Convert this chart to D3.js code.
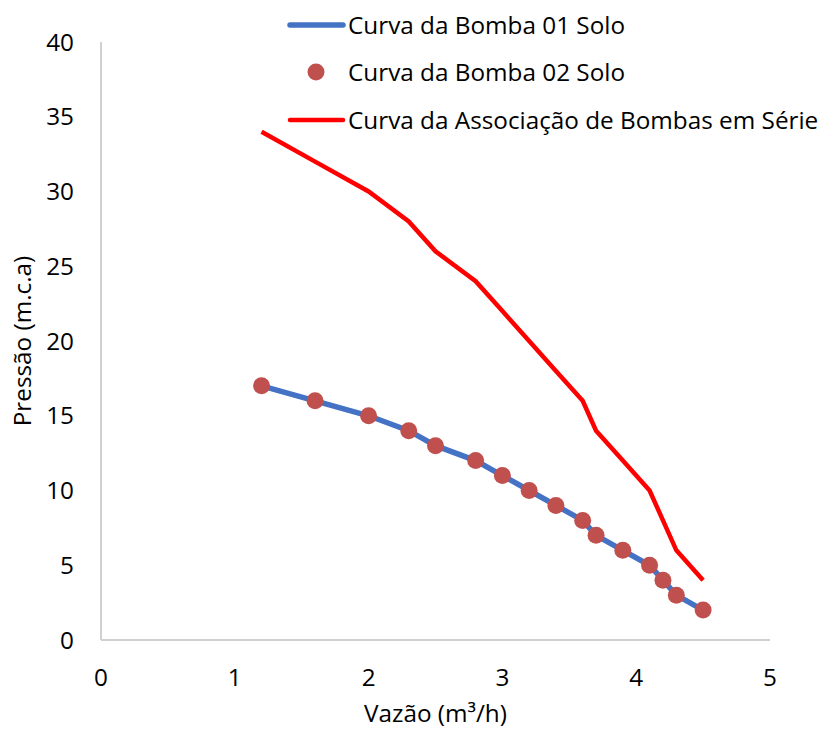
<!DOCTYPE html>
<html>
<head>
<meta charset="utf-8">
<script src="https://cdn.jsdelivr.net/npm/d3@7"></script>
<style>
  body { margin: 0; background: #fff; }
  text { font-family: "Open Sans", sans-serif; fill: #000; }
</style>
</head>
<body>
<div id="chart"></div>
<script>
// data
const vazao = [1.2, 1.6, 2, 2.3, 2.5, 2.8, 3, 3.2, 3.4, 3.6, 3.7, 3.9, 4.1, 4.2, 4.3, 4.5];
const bomba01 = [17, 16, 15, 14, 13, 12, 11, 10, 9, 8, 7, 6, 5, 4, 3, 2];
const bomba02 = [17, 16, 15, 14, 13, 12, 11, 10, 9, 8, 7, 6, 5, 4, 3, 2];
const serie = [34, 32, 30, 28, 26, 24, 22, 20, 18, 16, 14, 12, 10, 8, 6, 4];
const xTicks = [0, 1, 2, 3, 4, 5];
const yTicks = [0, 5, 10, 15, 20, 25, 30, 35, 40];
const legendNames = [
  "Curva da Bomba 01 Solo",
  "Curva da Bomba 02 Solo",
  "Curva da Associação de Bombas em Série",
];

const width = 819;
const height = 731;
const margin = { top: 42, right: 49, bottom: 91, left: 101 };
const fs = 24.3;

const svg = d3.select("#chart").append("svg")
  .attr("width", width)
  .attr("height", height);

// scale
const x = d3.scaleLinear().domain([0, 5]).range([margin.left, width - margin.right]);
const y = d3.scaleLinear().domain([0, 40]).range([height - margin.bottom, margin.top]);

//axis lines
svg.append("line")
  .attr("x1", x(0)).attr("x2", x(5))
  .attr("y1", y(0)).attr("y2", y(0))
  .attr("stroke", "#d0d0d0").attr("stroke-width", 2);
svg.append("line")
  .attr("x1", x(0)).attr("x2", x(0))
  .attr("y1", y(0)).attr("y2", y(40))
  .attr("stroke", "#d0d0d0").attr("stroke-width", 2);

//tick labels
svg.selectAll(".ytick")
  .data(yTicks)
  .enter()
  .append("text")
  .attr("x", x(0) - 27)
  .attr("y", (d) => y(d))
  .attr("dy", "0.35em")
  .attr("text-anchor", "end")
  .attr("font-size", fs)
  .text((d) => d);

svg.selectAll(".xtick")
  .data(xTicks)
  .enter()
  .append("text")
  .attr("x", (d) => x(d))
  .attr("y", y(0) + 37)
  .attr("dy", "0.35em")
  .attr("text-anchor", "middle")
  .attr("font-size", fs)
  .text((d) => d);

//axis titles
svg.append("text")
  .attr("x", (x(0) + x(5)) / 2)
  .attr("y", 713)
  .attr("dy", "0.35em")
  .attr("text-anchor", "middle")
  .attr("font-size", fs)
  .text("Vazão (m³/h)");

svg.append("text")
  .attr("transform", `translate(22, ${(y(0) + y(40)) / 2}) rotate(-90)`)
  .attr("dy", "0.35em")
  .attr("text-anchor", "middle")
  .attr("font-size", fs)
  .text("Pressão (m.c.a)");

// lines
const line = (vals) => d3.line()
  .x((d, i) => x(vazao[i]))
  .y((d) => y(d))(vals);

svg.append("path")
  .attr("d", line(serie))
  .attr("fill", "none")
  .attr("stroke", "#FF0000")
  .attr("stroke-width", 4.5);

svg.append("path")
  .attr("d", line(bomba01))
  .attr("fill", "none")
  .attr("stroke", "#4472C4")
  .attr("stroke-width", 5.5);

svg.selectAll(".pt")
  .data(bomba02)
  .enter()
  .append("circle")
  .attr("cx", (d, i) => x(vazao[i]))
  .attr("cy", (d) => y(d))
  .attr("r", 8.5)
  .attr("fill", "#C0504D");

//legend
const legY = [25, 72, 120];
const leg = svg.append("g");
leg.append("line")
  .attr("x1", 290).attr("x2", 343)
  .attr("y1", legY[0]).attr("y2", legY[0])
  .attr("stroke", "#4472C4").attr("stroke-width", 5.5).attr("stroke-linecap", "round");
leg.append("circle")
  .attr("cx", 316).attr("cy", legY[1]).attr("r", 8.5)
  .attr("fill", "#C0504D");
leg.append("line")
  .attr("x1", 290).attr("x2", 343)
  .attr("y1", legY[2]).attr("y2", legY[2])
  .attr("stroke", "#FF0000").attr("stroke-width", 4.5).attr("stroke-linecap", "round");
leg.selectAll(".lt")
  .data(legendNames)
  .enter()
  .append("text")
  .attr("x", 348)
  .attr("y", (d, i) => legY[i])
  .attr("dy", "0.35em")
  .attr("font-size", fs)
  .text((d) => d);
</script>
</body>
</html>
